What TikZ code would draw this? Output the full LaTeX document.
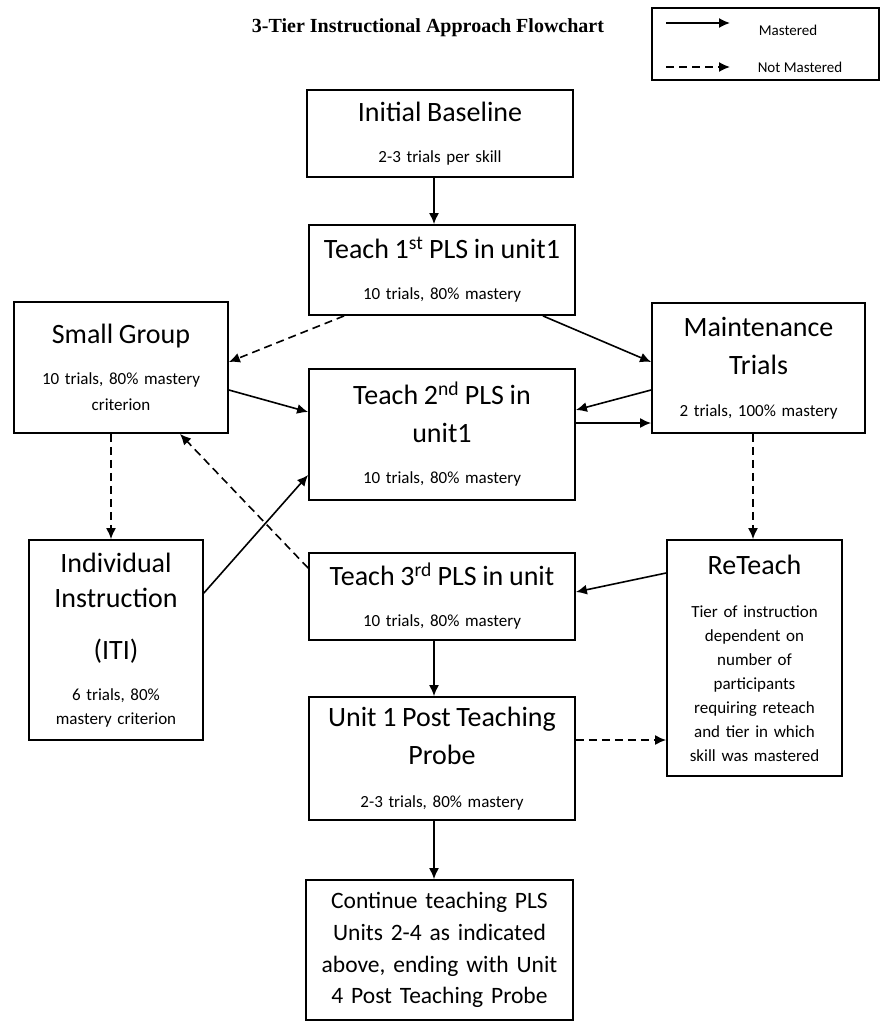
\documentclass[tikz,border=0pt]{standalone}
\usepackage{fontspec}
\setmainfont{Carlito}
\newfontfamily\titlefont{Liberation Serif}
\usetikzlibrary{arrows.meta}
\newcommand{\bigtxt}{\fontsize{28}{38}\selectfont}
\newcommand{\midtxt}{\fontsize{23.5}{31.7}\selectfont}
\newcommand{\smalltxt}{\fontsize{17}{24}\selectfont}
\newcommand{\legtxt}{\fontsize{15}{18}\selectfont}
\tikzset{
  box/.style={
    rectangle, draw, line width=1.8pt,
    text width=#1, inner xsep=5pt, inner ysep=0pt,
    execute at begin node=\centering, font=\smalltxt
  },
  box/.default=256pt,
  arr/.style={-{Latex[length=11pt,width=10pt]}, line width=1.6pt},
  dArr/.style={arr, dash pattern=on 8pt off 5pt},
}
\begin{document}
\begin{tikzpicture}[x=1pt, y=-1pt]
\useasboundingbox (0,0) rectangle (881,1023);

% Title and legend
\node[font=\titlefont\bfseries\fontsize{20}{24}\selectfont] at (428,28) (title) {3-Tier Instructional Approach Flowchart};
\node[draw, line width=1.5pt, minimum width=227pt, minimum height=72pt] at (765.5,44) (legend) {};
\coordinate (ms) at (666,23);
\coordinate (ns) at (666,67);
\draw[arr] (ms) -- ++(64,0);
\draw[dArr] (ns) -- ++(64,0);
\node[font=\legtxt] at (788,30) (mlab) {Mastered};
\node[font=\legtxt] at (800,67) (nlab) {Not Mastered};

% Centre column
\node[box, minimum height=87pt] at (440,133.5) (base) {
  \bigtxt Initial Baseline\\[17pt]
  \smalltxt 2-3 trials per skill
};
\node[box, minimum height=90pt] at (442,270) (t1) {
  \bigtxt Teach 1\textsuperscript{st} PLS in unit1\\[17pt]
  \smalltxt 10 trials, 80\% mastery
};
\node[box, minimum height=131pt] at (442,434.5) (t2) {
  \bigtxt Teach 2\textsuperscript{nd} PLS in\\
  unit1\\[17pt]
  \smalltxt 10 trials, 80\% mastery
};
\node[box, minimum height=87pt] at (442,596.5) (t3) {
  \bigtxt Teach 3\textsuperscript{rd} PLS in unit\\[17pt]
  \smalltxt 10 trials, 80\% mastery
};
\node[box, minimum height=123pt] at (442,758.5) (u1) {
  \bigtxt Unit 1 Post Teaching\\
  Probe\\[19pt]
  \smalltxt 2-3 trials, 80\% mastery
};
\node[box=257pt, minimum height=140pt, font=\midtxt] at (439.5,950) (cont) {
  \midtxt Continue teaching PLS\\
  Units 2-4 as indicated\\
  above, ending with Unit\\
  4 Post Teaching Probe
};

% Left column
\node[box=204pt, minimum height=131pt] at (121,367.5) (sg) {
  \bigtxt Small Group\\[17pt]
  \smalltxt 10 trials, 80\% mastery\\[2pt]
  criterion
};
\node[box=164pt, minimum height=200pt] at (116,640) (ind) {
  \bigtxt Individual\\[-3pt]
  Instruction\\[14pt]
  (ITI)\\[17pt]
  \smalltxt 6 trials, 80\%\\
  mastery criterion
};

% Right column
\node[box=203pt, minimum height=130pt] at (758.5,368) (mt) {
  \bigtxt Maintenance\\
  Trials\\[18pt]
  \smalltxt 2 trials, 100\% mastery
};
\node[box=165pt, minimum height=236pt] at (754.5,658) (rt) {
  \bigtxt ReTeach\\[19pt]
  \smalltxt Tier of instruction\\
  dependent on\\
  number of\\
  participants\\
  requiring reteach\\
  and tier in which\\
  skill was mastered
};

% Mastered
\draw[arr] ([xshift=-6pt]base.south) -- ([xshift=-8pt]t1.north);
\draw[arr] ([xshift=-33pt]t1.south east) -- ([yshift=6pt]mt.west);
\draw[arr] ([yshift=-22.5pt]sg.east) -- ([yshift=22.5pt]t2.west);
\draw[arr] ([yshift=-22pt]mt.west) -- ([yshift=24.5pt]t2.east);
\draw[arr] ([yshift=11.5pt]t2.east) -- ([yshift=-55pt]mt.west);
\draw[arr] ([yshift=47pt]ind.east) -- ([yshift=-40.5pt]t2.west);
\draw[arr] ([yshift=85pt]rt.west) -- ([yshift=4.5pt]t3.east);
\draw[arr] ([xshift=-8pt]t3.south) -- ([xshift=-8pt]u1.north);
\draw[arr] ([xshift=-8pt]u1.south) -- ([xshift=-5.5pt]cont.north);

% Not mastered
\draw[dArr] ([xshift=36pt]t1.south west) -- ([yshift=5.5pt]sg.east);
\draw[dArr] ([xshift=-10pt]sg.south) -- ([xshift=-5pt]ind.north);
\draw[dArr] ([yshift=28.5pt]t3.west) -- ([xshift=59pt]sg.south);
\draw[dArr] ([xshift=-5.5pt]mt.south) -- ([xshift=-1.5pt]rt.north);
\draw[dArr] ([yshift=18.5pt]u1.east) -- ([yshift=-82pt]rt.west);

\end{tikzpicture}
\end{document}
